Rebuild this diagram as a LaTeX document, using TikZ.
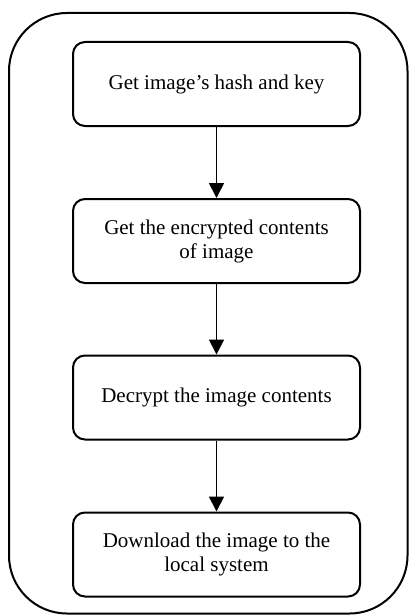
\documentclass[tikz,border=0pt]{standalone}
\usepackage{fontspec}
\setmainfont{Liberation Serif}
\usetikzlibrary{arrows.meta}
\begin{document}
\begin{tikzpicture}[x=1pt,y=-1pt,
  stepbox/.style={draw,line width=2pt,rounded corners=12pt,minimum width=287pt,minimum height=84pt,
    align=center,font=\fontsize{21}{24}\selectfont,inner sep=0pt},
  flow/.style={line width=1.8pt,-{Triangle[width=15pt,length=15pt]}}]
\useasboundingbox (0,0) rectangle (409,615);
\draw[line width=2pt,rounded corners=58pt] (9,13) rectangle (407.5,613.5);
\node[stepbox] (a) at (216.5,84) {Get image’s hash and key};
\node[stepbox] (b) at (216.5,241) {Get the encrypted contents\\of image};
\node[stepbox] (c) at (216.5,397.5) {Decrypt the image contents};
\node[stepbox] (d) at (216.5,554.5) {Download the image to the\\local system};
\draw[flow] (a) -- (b);
\draw[flow] (b) -- (c);
\draw[flow] (c) -- (d);
\end{tikzpicture}
\end{document}
